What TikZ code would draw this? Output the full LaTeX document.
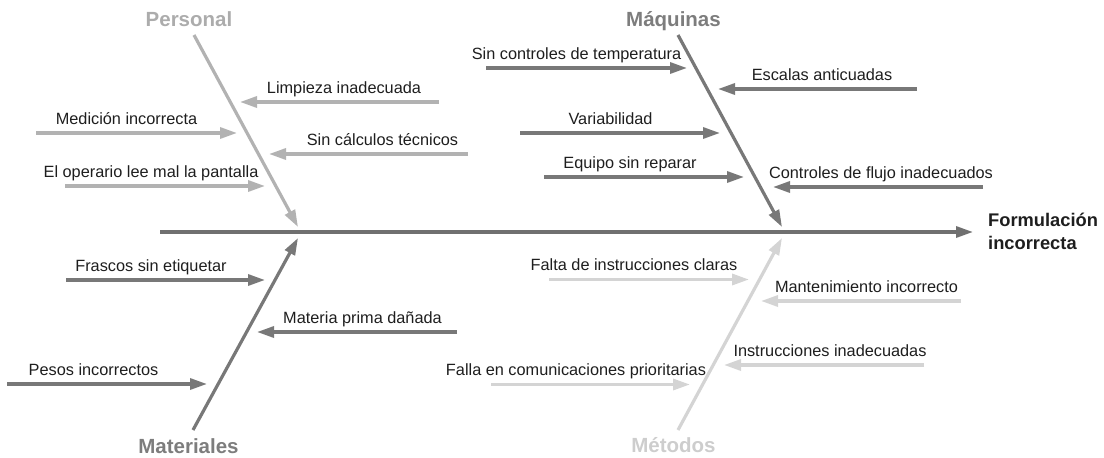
\documentclass[tikz,border=0pt]{standalone}
\usepackage{fontspec}
\setmainfont{Liberation Sans}
\usetikzlibrary{arrows.meta}
\definecolor{perscol}{RGB}{178,178,178}
\definecolor{perstxt}{RGB}{172,172,172}
\definecolor{maqcol}{RGB}{120,120,120}
\definecolor{maqtxt}{RGB}{125,125,125}
\definecolor{metcol}{RGB}{212,212,212}
\definecolor{mettxt}{RGB}{205,205,205}
\definecolor{spinecol}{RGB}{112,112,112}
\definecolor{txtcol}{RGB}{30,30,30}
\begin{document}
\begin{tikzpicture}[x=1pt,y=-1pt,
  lbl/.style={font=\fontsize{16.3}{18}\selectfont, text=txtcol, anchor=base, inner sep=0pt},
  cat/.style={font=\bfseries\fontsize{20.5}{24}\selectfont, anchor=base, inner sep=0pt},
  arr/.style={line width=3.2pt, -{Triangle[length=17pt,width=11pt]}},
  bone/.style={line width=3.2pt, -{Triangle[length=17pt,width=11pt]}}]
\useasboundingbox (0,0) rectangle (1104,458);

% spine
\coordinate (s0) at (160,232);
\coordinate (s1) at (973,232);
\draw[bone, spinecol] (s0) -- (s1);
\node[font=\bfseries\fontsize{18.3}{23}\selectfont, text=txtcol, align=left, anchor=north west, inner sep=0pt] (effect) at (988,213) {Formulación\\incorrecta};

% bones
\coordinate (pt) at (194,35);  \coordinate (pb) at (298,227);
\coordinate (qt) at (678,35);  \coordinate (qb) at (782,227);
\coordinate (mt) at (193,430); \coordinate (mb) at (298,238);
\coordinate (dt) at (678,430); \coordinate (db) at (782,238);
\draw[bone, perscol] (pt) -- (pb);
\draw[bone, maqcol] (qt) -- (qb);
\draw[bone, maqcol] (mt) -- (mb);
\draw[bone, metcol] (dt) -- (db);

\node[cat, text=perstxt] (personal) at (189,26.5) {Personal};
\node[cat, text=maqtxt] (maquinas) at (673.5,26.5) {Máquinas};
\node[cat, text=maqtxt] (materiales) at (188.5,453) {Materiales};
\node[cat, text=mettxt] (metodos) at (673.5,452) {Métodos};

% Personal causes
\coordinate (p1s) at (439,102); \coordinate (p1e) at (240,102);
\coordinate (p2s) at (36,133);  \coordinate (p2e) at (237,133);
\coordinate (p3s) at (468,154); \coordinate (p3e) at (269,154);
\coordinate (p4s) at (65,186);  \coordinate (p4e) at (265,186);
\draw[arr, perscol] (p1s) -- (p1e);
\draw[arr, perscol] (p2s) -- (p2e);
\draw[arr, perscol] (p3s) -- (p3e);
\draw[arr, perscol] (p4s) -- (p4e);
\node[lbl] (p1) at (344,93) {Limpieza inadecuada};
\node[lbl] (p2) at (126.5,124) {Medición incorrecta};
\node[lbl] (p3) at (382.5,145) {Sin cálculos técnicos};
\node[lbl] (p4) at (151,177) {El operario lee mal la pantalla};

% Maquinas causes
\coordinate (q1s) at (486,68);  \coordinate (q1e) at (687,68);
\coordinate (q2s) at (917,89);  \coordinate (q2e) at (718,89);
\coordinate (q3s) at (520,133); \coordinate (q3e) at (720,133);
\coordinate (q4s) at (544,177); \coordinate (q4e) at (744,177);
\coordinate (q5s) at (983,187); \coordinate (q5e) at (773,187);
\draw[arr, maqcol] (q1s) -- (q1e);
\draw[arr, maqcol] (q2s) -- (q2e);
\draw[arr, maqcol] (q3s) -- (q3e);
\draw[arr, maqcol] (q4s) -- (q4e);
\draw[arr, maqcol] (q5s) -- (q5e);
\node[lbl] (q1) at (576.5,59) {Sin controles de temperatura};
\node[lbl] (q2) at (822,80) {Escalas anticuadas};
\node[lbl] (q3) at (610.5,124) {Variabilidad};
\node[lbl] (q4) at (630,168) {Equipo sin reparar};
\node[lbl] (q5) at (881,178) {Controles de flujo inadecuados};

% Materiales causes
\coordinate (m1s) at (66,280);  \coordinate (m1e) at (265,280);
\coordinate (m2s) at (457,332); \coordinate (m2e) at (257,332);
\coordinate (m3s) at (7,384);   \coordinate (m3e) at (207,384);
\draw[arr, maqcol] (m1s) -- (m1e);
\draw[arr, maqcol] (m2s) -- (m2e);
\draw[arr, maqcol] (m3s) -- (m3e);
\node[lbl] (m1) at (151,271) {Frascos sin etiquetar};
\node[lbl] (m2) at (362.5,323) {Materia prima dañada};
\node[lbl] (m3) at (93.5,375) {Pesos incorrectos};

% Metodos causes
\coordinate (d1s) at (549,279.5); \coordinate (d1e) at (749,279.5);
\coordinate (d2s) at (961,301);   \coordinate (d2e) at (761,301);
\coordinate (d3s) at (924,365);   \coordinate (d3e) at (724,365);
\coordinate (d4s) at (491,384.5); \coordinate (d4e) at (690,384.5);
\draw[arr, metcol] (d1s) -- (d1e);
\draw[arr, metcol] (d2s) -- (d2e);
\draw[arr, metcol] (d3s) -- (d3e);
\draw[arr, metcol] (d4s) -- (d4e);
\node[lbl] (d1) at (634,270.5) {Falta de instrucciones claras};
\node[lbl] (d2) at (866.5,292) {Mantenimiento incorrecto};
\node[lbl] (d3) at (830,356) {Instrucciones inadecuadas};
\node[lbl] (d4) at (576,375) {Falla en comunicaciones prioritarias};
\end{tikzpicture}
\end{document}
